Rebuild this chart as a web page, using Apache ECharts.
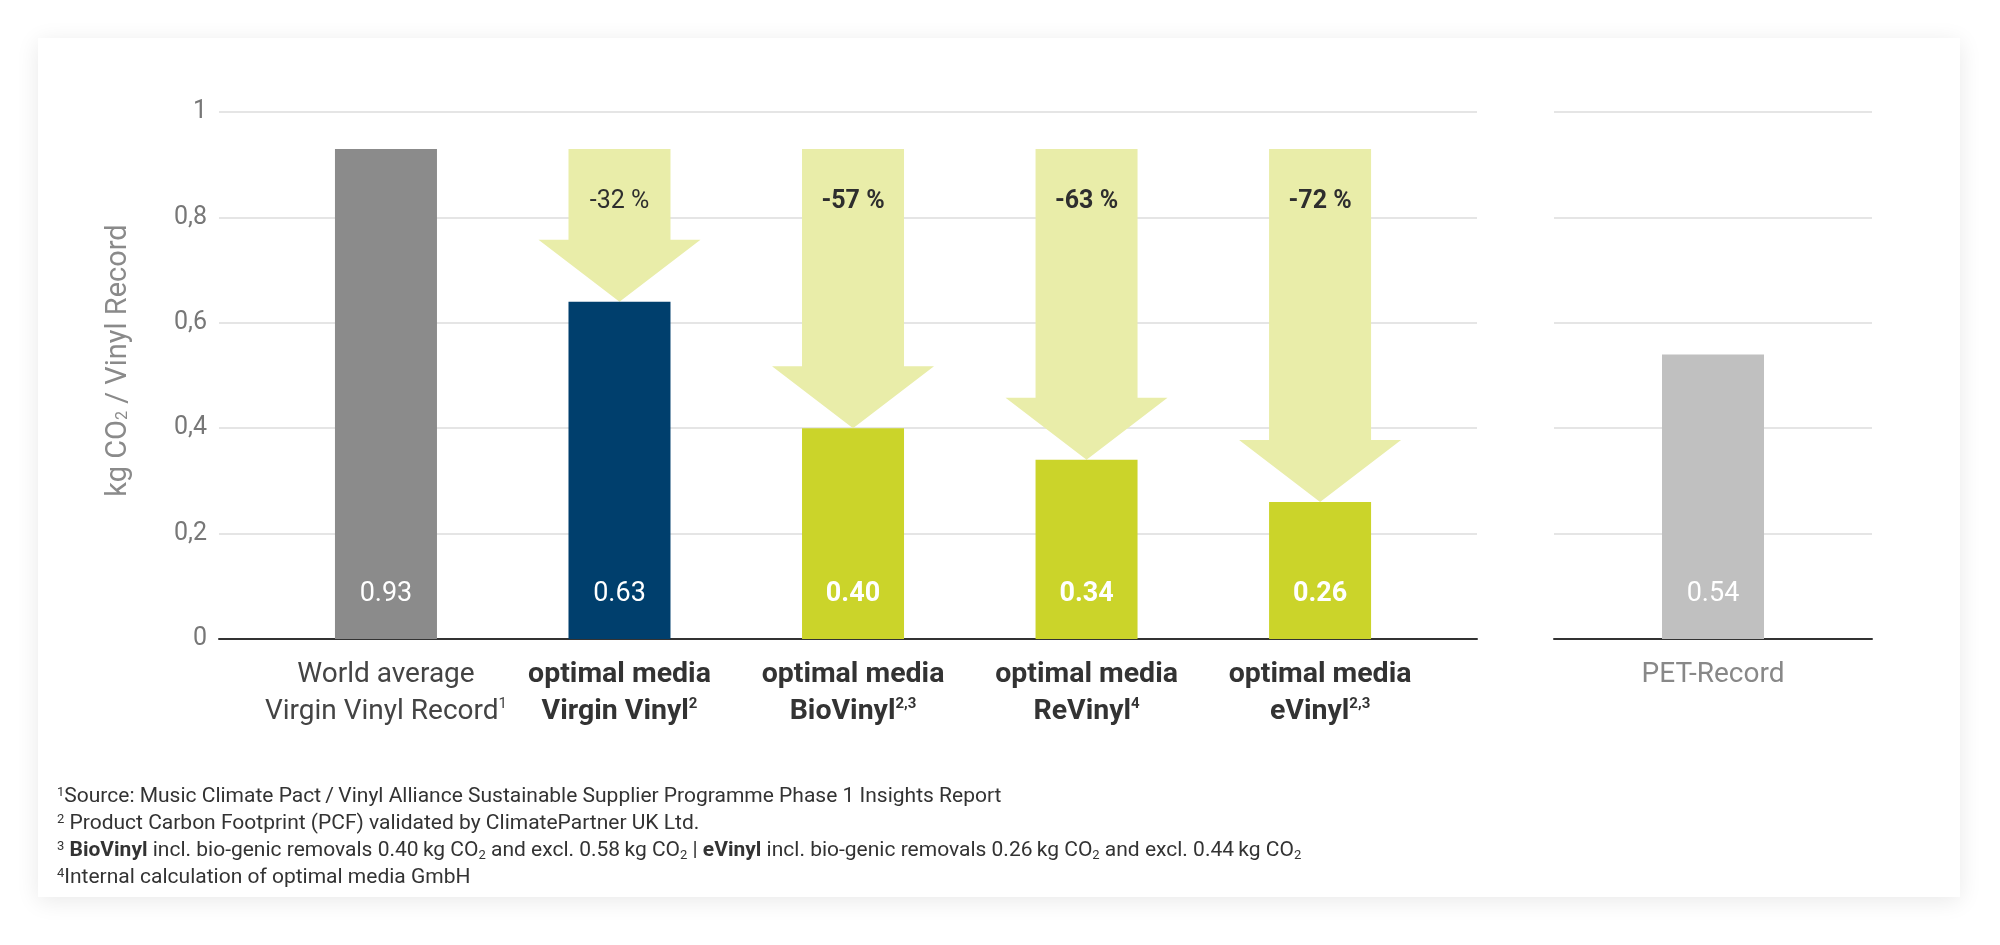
<!DOCTYPE html>
<html>
<head>
<meta charset="utf-8">
<script src="https://cdn.jsdelivr.net/npm/echarts@6/dist/echarts.min.js"></script>
<style>
  html, body { margin: 0; padding: 0; background: #fff; }
  #card { position: absolute; left: 38px; top: 38px; width: 1922px; height: 859px;
          background: #fff; box-shadow: 0 4px 22px rgba(0,0,0,0.09); }
  #chart { position: absolute; left: 0; top: 0; width: 2000px; height: 945px; }
</style>
</head>
<body>
<div id="card"></div>
<div id="chart"></div>
<script>
// categories (rich text markup for the superscripts)
var categories = [
  '{n|World average}\n{n|Virgin Vinyl Record}{nsup|1}',
  '{b|optimal media}\n{b|Virgin Vinyl}{bsup|2}',
  '{b|optimal media}\n{b|BioVinyl}{bsup|2,3}',
  '{b|optimal media}\n{b|ReVinyl}{bsup|4}',
  '{b|optimal media}\n{b|eVinyl}{bsup|2,3}'
];
var values = [0.93, 0.64, 0.40, 0.34, 0.26];
var valueLabels = ['0.93', '0.63', '0.40', '0.34', '0.26'];
var barColors = ['#8b8b8b', '#003f6d', '#cbd42a', '#cbd42a', '#cbd42a'];
var labelBold = [false, false, true, true, true];

var reduction = ['-32 %', '-57 %', '-63 %', '-72 %'];   // arrows for items 1..4
var baseline = 0.93;

var petCategory = ['PET-Record'];
var petValues = [0.54];
var petLabels = ['0.54'];

var footnotes = [
  '{s|1}Source: Music Climate Pact\u2009/\u2009Vinyl Alliance Sustainable Supplier Programme Phase 1 Insights Report',
  '{s|2} Product Carbon Footprint (PCF) validated by ClimatePartner UK Ltd.',
  '{s|3} {b|BioVinyl} incl. bio-genic removals 0.40\u2009kg CO{u|2} and excl. 0.58\u2009kg CO{u|2} | {b|eVinyl} incl. bio-genic removals 0.26\u2009kg CO{u|2} and excl. 0.44\u2009kg CO{u|2}',
  '{s|4}Internal calculation of optimal media GmbH'
];

var FONT = 'Roboto, "Liberation Sans", sans-serif';

var myChart = echarts.init(document.getElementById('chart'));

var barData = values.map(function (v, i) {
  return {
    value: [i, v],
    itemStyle: { color: barColors[i] },
    label: { formatter: valueLabels[i], fontWeight: labelBold[i] ? 'bold' : 'normal' }
  };
});
var arrowData = reduction.map(function (t, k) {
  return [k + 1, baseline, values[k + 1]];
});

function renderArrow(params, api) {
  var top = api.coord([api.value(0), api.value(1)]);
  var tip = api.coord([api.value(0), api.value(2)]);
  var cx = top[0], hw = 51, hh = 81, headH = 62;
  var yT = top[1], yB = tip[1];
  return {
    type: 'group',
    children: [{
      type: 'polygon',
      shape: { points: [
        [cx - hw, yT], [cx + hw, yT], [cx + hw, yB - headH], [cx + hh, yB - headH],
        [cx, yB], [cx - hh, yB - headH], [cx - hw, yB - headH]
      ] },
      style: { fill: '#e9eda9' }
    }, {
      type: 'text',
      style: {
        text: reduction[params.dataIndex],
        x: cx, y: yT + 53, align: 'center', verticalAlign: 'middle',
        fill: '#2e2e2e', fontSize: 25, fontFamily: FONT,
        fontWeight: params.dataIndex === 0 ? 'normal' : 'bold'
      }
    }]
  };
}

var option = {
  animation: false,
  textStyle: { fontFamily: FONT },
  grid: [
    { left: 219, right: 523, top: 112, bottom: 306 },
    { left: 1554, right: 128, top: 112, bottom: 306 }
  ],
  xAxis: [{
    type: 'value', gridIndex: 0, min: -0.715, max: 4.672,
    splitLine: { show: false },
    axisLine: { show: true, onZero: false, lineStyle: { color: '#333', width: 2 } },
    axisTick: { show: false },
    axisLabel: {
      customValues: [0, 1, 2, 3, 4],
      margin: 17, lineHeight: 37,
      formatter: function (v) { return categories[Math.round(v)]; },
      rich: {
        n: { fontSize: 28, color: '#444', lineHeight: 37, fontFamily: FONT },
        nsup: { fontSize: 15, color: '#444', padding: [0, 0, 14, 0], fontFamily: FONT },
        b: { fontSize: 28.5, color: '#333', fontWeight: 'bold', lineHeight: 37, fontFamily: FONT },
        bsup: { fontSize: 15, color: '#333', fontWeight: 'bold', padding: [0, 0, 14, 0], fontFamily: FONT }
      }
    }
  }, {
    type: 'category', gridIndex: 1, data: petCategory,
    axisLine: { lineStyle: { color: '#333', width: 2 } },
    axisTick: { show: false },
    axisLabel: { margin: 17, fontSize: 28, color: '#888', lineHeight: 37 }
  }],
  yAxis: [{
    type: 'value', gridIndex: 0, min: 0, max: 1, interval: 0.2,
    name: 'kg CO{sub|2} / Vinyl Record',
    nameLocation: 'middle', nameGap: 86,
    nameTextStyle: {
      fontSize: 29, color: '#8a8a8a', fontFamily: FONT, padding: [0, 0, 0, 30],
      rich: { sub: { fontSize: 16, color: '#8a8a8a', padding: [8, 0, 0, 0], fontFamily: FONT } }
    },
    axisLine: { show: false }, axisTick: { show: false },
    splitLine: { lineStyle: { color: '#dcdcdc', width: 1.5 } },
    axisLabel: {
      fontSize: 25, color: '#777', margin: 12,
      formatter: function (v) { return String(Math.round(v * 10) / 10).replace('.', ','); }
    }
  }, {
    type: 'value', gridIndex: 1, min: 0, max: 1, interval: 0.2,
    axisLine: { show: false }, axisTick: { show: false }, axisLabel: { show: false },
    splitLine: { lineStyle: { color: '#dcdcdc', width: 1.5 } }
  }],
  series: [{
    type: 'custom', xAxisIndex: 0, yAxisIndex: 0,
    renderItem: renderArrow, data: arrowData, z: 1
  }, {
    type: 'bar', xAxisIndex: 0, yAxisIndex: 0, barWidth: 102, data: barData, z: 2,
    label: { show: true, position: 'insideBottom', distance: 31, color: '#fff', fontSize: 27 }
  }, {
    type: 'bar', xAxisIndex: 1, yAxisIndex: 1, barWidth: 102,
    data: petValues, itemStyle: { color: '#c0c0c0' },
    label: { show: true, position: 'insideBottom', distance: 31, color: '#fff', fontSize: 27,
             formatter: function (p) { return petLabels[p.dataIndex]; } }
  }],
  graphic: footnotes.map(function (t, i) {
    return {
      type: 'text', left: 57, top: 785 + i * 27,
      style: {
        text: t, fill: '#333', fontSize: 21, fontFamily: FONT, lineHeight: 24,
        rich: {
          s: { fontSize: 13, fill: '#333', padding: [0, 0, 9, 0], fontFamily: FONT },
          b: { fontSize: 21, fill: '#333', fontWeight: 'bold', fontFamily: FONT },
          u: { fontSize: 13, fill: '#333', padding: [10, 0, 0, 0], fontFamily: FONT }
        }
      }
    };
  })
};

myChart.setOption(option);
</script>
</body>
</html>
